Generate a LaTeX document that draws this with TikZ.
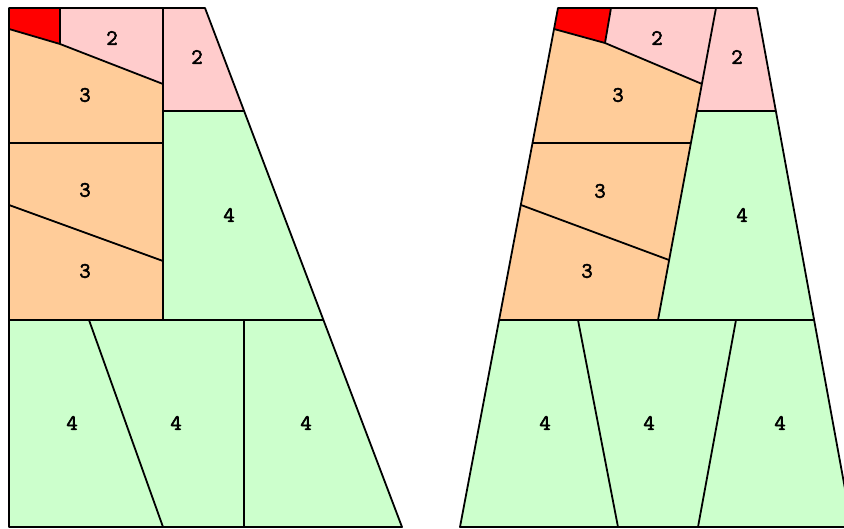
\documentclass[tikz,border=0pt]{standalone}
\usepackage{fontspec}
\newfontfamily\labfont{Latin Modern Mono}[FakeBold=2.5]
\definecolor{cred}{HTML}{FF0000}
\definecolor{cpink}{HTML}{FFCCCC}
\definecolor{corange}{HTML}{FFCC99}
\definecolor{cgreen}{HTML}{CCFFCC}
\tikzset{
  piece/.style={draw=black, line width=1.8pt, line join=round},
  lab/.style={font=\labfont\fontsize{22}{22}\selectfont, inner sep=0pt}
}
\begin{document}
\begin{tikzpicture}[x=1pt, y=-1pt]
\useasboundingbox (0,0) rectangle (844,529);
\clip (0,0) rectangle (844,529);
% ---------------- left diagram ----------------
\fill[cred] (9,8) -- (60,8) -- (60,44) -- (9,29) -- cycle;
\fill[cpink] (60,8) -- (163,8) -- (163,84) -- (60,44) -- cycle;
\fill[cpink] (163,8) -- (205,8) -- (244,111) -- (163,111) -- cycle;
\fill[corange] (9,29) -- (60,44) -- (163,84) -- (163,320) -- (9,320) -- cycle;
\fill[cgreen] (163,111) -- (244,111) -- (323.4,320) -- (163,320) -- cycle;
\fill[cgreen] (9,320) -- (323.4,320) -- (402,527) -- (9,527) -- cycle;
\draw[piece] (9,8) -- (205,8) -- (402,527) -- (9,527) -- cycle;
\draw[piece] (60,8) -- (60,44);
\draw[piece] (9,29) -- (60,44) -- (163,84);
\draw[piece] (163,8) -- (163,320);
\draw[piece] (163,111) -- (244,111);
\draw[piece] (9,143) -- (163,143);
\draw[piece] (9,205) -- (163,261);
\draw[piece] (9,320) -- (323.4,320);
\draw[piece] (89,320) -- (163,527);
\draw[piece] (244,320) -- (244,527);
\node[lab] (l2a) at (112,38) {2};
\node[lab] (l2b) at (197,57) {2};
\node[lab] (l3a) at (85,95) {3};
\node[lab] (l3b) at (85,190) {3};
\node[lab] (l3c) at (85,271) {3};
\node[lab] (l4a) at (229,215) {4};
\node[lab] (l4b) at (72,423) {4};
\node[lab] (l4c) at (176,423) {4};
\node[lab] (l4d) at (306,423) {4};
% ---------------- right diagram ----------------
\fill[cred] (558,8) -- (611,8) -- (605,43) -- (554,29) -- cycle;
\fill[cpink] (611,8) -- (716,8) -- (702,84) -- (605,43) -- cycle;
\fill[cpink] (716,8) -- (757,8) -- (776,111) -- (697,111) -- cycle;
\fill[corange] (554,29) -- (605,43) -- (702,84) -- (658,320) -- (499,320) -- cycle;
\fill[cgreen] (697,111) -- (776,111) -- (814,320) -- (658,320) -- cycle;
\fill[cgreen] (499,320) -- (814,320) -- (852,527) -- (460,527) -- cycle;
\draw[piece] (558,8) -- (757,8) -- (852,527) -- (460,527) -- cycle;
\draw[piece] (611,8) -- (605,43);
\draw[piece] (554,29) -- (605,43) -- (702,84);
\draw[piece] (716,8) -- (658,320);
\draw[piece] (697,111) -- (776,111);
\draw[piece] (532.5,143) -- (691,143);
\draw[piece] (521,205) -- (669,260);
\draw[piece] (499,320) -- (814,320);
\draw[piece] (578,320) -- (618,527);
\draw[piece] (736,320) -- (698,527);
\node[lab] (r2a) at (657,38) {2};
\node[lab] (r2b) at (737,57) {2};
\node[lab] (r3a) at (618,95) {3};
\node[lab] (r3b) at (600,191) {3};
\node[lab] (r3c) at (587,271) {3};
\node[lab] (r4a) at (742,215) {4};
\node[lab] (r4b) at (545,423) {4};
\node[lab] (r4c) at (649,423) {4};
\node[lab] (r4d) at (780,423) {4};
\end{tikzpicture}
\end{document}
